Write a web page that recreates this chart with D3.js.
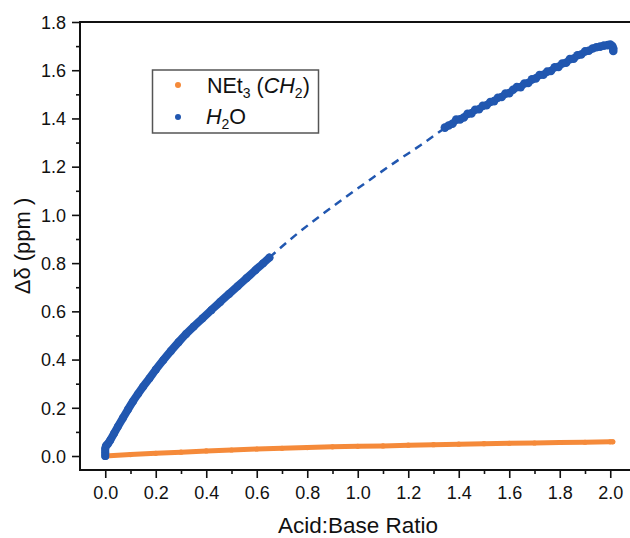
<!DOCTYPE html>
<html><head><meta charset="utf-8">
<script src="https://cdn.jsdelivr.net/npm/d3@7"></script>
<style>body{margin:0;background:#fff}svg{display:block;font-family:"Liberation Sans",Arial,sans-serif}</style>
</head><body><svg id="c" width="630" height="538"></svg>
<script>
// ---- data ----
const xTicks = [0.0,0.2,0.4,0.6,0.8,1.0,1.2,1.4,1.6,1.8,2.0];
const yTicks = [0.0,0.2,0.4,0.6,0.8,1.0,1.2,1.4,1.6,1.8];
const xMinor = [0.1,0.3,0.5,0.7,0.9,1.1,1.3,1.5,1.7,1.9];
const yMinor = [0.1,0.3,0.5,0.7,0.9,1.1,1.3,1.5,1.7];

// NEt3 (CH2)
const netX = [0,0.1,0.2,0.3,0.4,0.5,0.6,0.7,0.8,0.9,1.0,1.1,1.2,1.3,1.4,1.5,1.6,1.7,1.8,1.9,2.0,2.01];
const netY = [0.000,0.006,0.011,0.016,0.021,0.025,0.029,0.032,0.035,0.038,0.040,0.042,0.045,0.047,0.049,0.051,0.053,0.054,0.056,0.057,0.059,0.059];

// H2O measured, first part
const h2oX1 = [0.000,0.000,0.000,0.003,0.010,0.020,0.035,0.050,0.070,0.090,0.110,0.130,0.150,0.175,0.200,0.230,0.260,0.290,0.320,0.350,0.385,0.420,0.455,0.490,0.525,0.560,0.595,0.625,0.650];
const h2oY1 = [0.000,0.015,0.030,0.042,0.050,0.066,0.094,0.122,0.158,0.193,0.227,0.258,0.288,0.322,0.358,0.398,0.436,0.472,0.506,0.537,0.571,0.605,0.639,0.672,0.705,0.738,0.771,0.799,0.823];

// H2O gap (dashed)
const dashX = [0.650,0.75,0.85,0.95,1.05,1.15,1.25,1.347];
const dashY = [0.823,0.913,0.995,1.072,1.147,1.220,1.290,1.362];

// H2O measured, second part
const h2oX2 = [1.345,1.36,1.375,1.39,1.405,1.42,1.435,1.45,1.465,1.48,1.495,1.51,1.525,1.54,1.555,1.57,1.585,1.60,1.615,1.63,1.645,1.66,1.675,1.69,1.705,1.72,1.735,1.75,1.765,1.78,1.795,1.81,1.825,1.84,1.855,1.87,1.885,1.90,1.915,1.93,1.945,1.96,1.975,1.99,2.0,2.008,2.012,2.012];
const h2oY2 = [1.362,1.371,1.378,1.395,1.396,1.404,1.419,1.421,1.436,1.438,1.452,1.455,1.468,1.472,1.486,1.489,1.503,1.505,1.519,1.530,1.530,1.545,1.547,1.562,1.566,1.580,1.581,1.594,1.597,1.612,1.614,1.628,1.631,1.646,1.648,1.662,1.665,1.678,1.681,1.690,1.695,1.698,1.702,1.704,1.706,1.700,1.690,1.680];

// ---- chart ----
const orange = "#F58A3A", blue = "#2157B0";
const svg = d3.select("#c");
const x = d3.scaleLinear().domain([-0.1, 2.1]).range([80, 635.5]);
const y = d3.scaleLinear().domain([-0.058, 1.8]).range([470, 22]);
const zip = (a,b) => a.map((v,i)=>[v,b[i]]);
const line = d3.line().x(d=>x(d[0])).y(d=>y(d[1]));
const smooth = d3.line().x(d=>x(d[0])).y(d=>y(d[1])).curve(d3.curveMonotoneX);

// axes
const xAxis = svg.append("g").attr("transform","translate(0,470)");
xAxis.call(d3.axisBottom(x).tickValues(xTicks).tickSize(8).tickFormat(d3.format(".1f")));
const xAxisMinor = svg.append("g").attr("transform","translate(0,470)");
xAxisMinor.call(d3.axisBottom(x).tickValues(xMinor).tickSize(4).tickFormat(""));
const yAxis = svg.append("g").attr("transform","translate(80,0)");
yAxis.call(d3.axisLeft(y).tickValues(yTicks).tickSize(8).tickFormat(d3.format(".1f")));
const yAxisMinor = svg.append("g").attr("transform","translate(80,0)");
yAxisMinor.call(d3.axisLeft(y).tickValues(yMinor).tickSize(4).tickFormat(""));
svg.selectAll(".domain").remove();
svg.selectAll(".tick line").attr("stroke","#111").attr("stroke-width",1.6);
xAxis.selectAll("text").attr("font-size",18).attr("fill","#111").attr("dy",null).attr("y",29);
yAxis.selectAll("text").attr("font-size",18).attr("fill","#111").attr("x",-14).attr("dy","0.35em");

// frame
svg.append("line").attr("x1",80).attr("x2",630).attr("y1",470).attr("y2",470).attr("stroke","#111").attr("stroke-width",2);
svg.append("line").attr("x1",80).attr("x2",630).attr("y1",22).attr("y2",22).attr("stroke","#111").attr("stroke-width",2);
svg.append("line").attr("x1",80).attr("x2",80).attr("y1",21).attr("y2",471).attr("stroke","#111").attr("stroke-width",2);

// titles
svg.append("text").attr("x",358).attr("y",533).attr("text-anchor","middle").attr("font-size",22.5).attr("fill","#111").text("Acid:Base Ratio");
svg.append("text").attr("transform","translate(30,246) rotate(-90)").attr("text-anchor","middle").attr("font-size",22).attr("fill","#111").text("\u0394\u03B4 (ppm )");

// NEt3 series
const net = zip(netX, netY);
svg.append("path").datum(net).attr("d",line).attr("fill","none").attr("stroke",orange).attr("stroke-width",5).attr("stroke-linecap","round");
svg.append("g").selectAll("circle").data(net).join("circle").attr("cx",d=>x(d[0])).attr("cy",d=>y(d[1])).attr("r",2.6).attr("fill",orange);

// H2O series
const h1 = zip(h2oX1, h2oY1);
svg.append("path").datum(h1).attr("d",smooth).attr("fill","none").attr("stroke",blue).attr("stroke-width",8).attr("stroke-linecap","round").attr("stroke-linejoin","round");
svg.append("g").selectAll("circle").data(h1).join("circle").attr("cx",d=>x(d[0])).attr("cy",d=>y(d[1])).attr("r",3.9).attr("fill",blue);

const dl = zip(dashX, dashY);
svg.append("path").datum(dl).attr("d",smooth).attr("fill","none").attr("stroke",blue).attr("stroke-width",2.5).attr("stroke-dasharray","8,6");

const h2 = zip(h2oX2, h2oY2);
svg.append("path").datum(h2).attr("d",line).attr("fill","none").attr("stroke",blue).attr("stroke-width",7).attr("stroke-linejoin","round").attr("stroke-linecap","round");
svg.append("g").selectAll("circle").data(h2).join("circle").attr("cx",d=>x(d[0])).attr("cy",d=>y(d[1])).attr("r",4.3).attr("fill",blue);

// legend
const lg = svg.append("g");
lg.append("rect").attr("x",152.5).attr("y",70).attr("width",166).attr("height",63).attr("fill","#fff").attr("stroke","#555").attr("stroke-width",1.5);
lg.append("circle").attr("cx",178).attr("cy",85).attr("r",3).attr("fill",orange);
lg.append("circle").attr("cx",178).attr("cy",117).attr("r",3).attr("fill",blue);
const t1 = lg.append("text").attr("x",207).attr("y",93).attr("font-size",21.5).attr("fill","#111");
t1.append("tspan").text("NEt");
t1.append("tspan").attr("font-size",14).attr("dy",5).text("3");
t1.append("tspan").attr("dy",-5).text(" (");
t1.append("tspan").attr("font-style","italic").text("CH");
t1.append("tspan").attr("font-size",14).attr("dy",5).text("2");
t1.append("tspan").attr("dy",-5).text(")");
const t2 = lg.append("text").attr("x",206).attr("y",124).attr("font-size",21.5).attr("fill","#111");
t2.append("tspan").attr("font-style","italic").text("H");
t2.append("tspan").attr("font-size",14).attr("dy",5).text("2");
t2.append("tspan").attr("dy",-5).text("O");
</script></body></html>
